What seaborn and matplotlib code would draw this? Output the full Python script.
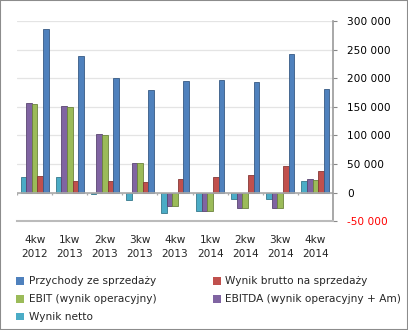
import matplotlib
matplotlib.use("Agg")
import matplotlib.pyplot as plt
from matplotlib.patches import Patch, Rectangle
from matplotlib.ticker import FuncFormatter
import seaborn as sns
import pandas as pd

# Quarterly results
kwartaly = ["4kw\n2012", "1kw\n2013", "2kw\n2013", "3kw\n2013", "4kw\n2013",
            "1kw\n2014", "2kw\n2014", "3kw\n2014", "4kw\n2014"]
przychody = [287000, 239000, 201000, 179000, 195000, 197500, 193500, 242500, 182000]
wynik_brutto = [29500, 21000, 20000, 18500, 23000, 27000, 30000, 47000, 38500]
ebit = [155500, 150000, 100500, 51000, -23000, -33000, -26500, -26500, 22500]
ebitda = [156500, 151000, 102000, 51500, -23000, -33000, -26500, -26500, 24000]
wynik_netto = [27000, 27000, -3000, -13000, -35000, -33000, -10500, -10500, 20000]

nazwy = {
    "przychody": "Przychody ze sprzedaży",
    "brutto": "Wynik brutto na sprzedaży",
    "ebit": "EBIT (wynik operacyjny)",
    "ebitda": "EBITDA (wynik operacyjny + Am)",
    "netto": "Wynik netto",
}
kolory = {
    nazwy["przychody"]: "#4F81BD",
    nazwy["brutto"]: "#C0504D",
    nazwy["ebit"]: "#9BBB59",
    nazwy["ebitda"]: "#8064A2",
    nazwy["netto"]: "#4BACC6",
}

serie = {
    nazwy["netto"]: wynik_netto,
    nazwy["ebitda"]: ebitda,
    nazwy["ebit"]: ebit,
    nazwy["brutto"]: wynik_brutto,
    nazwy["przychody"]: przychody,
}
rows = []
for s, vals in serie.items():
    for k, v in zip(kwartaly, vals):
        rows.append({"kwartal": k, "seria": s, "wartosc": v})
df = pd.DataFrame(rows)

sns.set_theme(style="white")
plt.rcParams["font.family"] = ["DejaVu Sans"]
FS = 7.6

fig = plt.figure(figsize=(4.08, 3.30), dpi=100)
ax = fig.add_axes([0.042, 0.330, 0.774, 0.606])

sns.barplot(data=df, x="kwartal", y="wartosc", hue="seria",
            hue_order=list(serie.keys()), palette=kolory, order=kwartaly,
            width=0.8, saturation=1, legend=False, ax=ax,
            edgecolor="none", linewidth=0)

# subtle darker outline on each bar for depth
for p in ax.patches:
    c = p.get_facecolor()
    p.set_edgecolor((c[0] * 0.7, c[1] * 0.7, c[2] * 0.7, 1))
    p.set_linewidth(0.6)

ax.set_ylim(-50000, 300000)
ax.set_xlim(-0.5, len(kwartaly) - 0.5)
ax.set_yticks(range(-50000, 300001, 50000))
ax.yaxis.grid(True, color="#E4E4E4", linewidth=0.9)
ax.set_axisbelow(True)
ax.yaxis.tick_right()
ax.yaxis.set_label_position("right")
ax.yaxis.set_major_formatter(FuncFormatter(lambda v, _: f"{int(v):,}".replace(",", " ")))
ax.tick_params(axis="y", length=3, width=0.8, color="#888888", pad=7,
               labelsize=FS, labelcolor="black", right=True, left=False)
for lab in ax.get_yticklabels():
    if lab.get_text().startswith("-"):
        lab.set_color("red")

ax.set_xlabel("")
ax.set_ylabel("")
ax.tick_params(axis="x", length=0, pad=10, labelsize=FS)
for lab in ax.get_xticklabels():
    lab.set_linespacing(1.55)

for side in ["top", "left"]:
    ax.spines[side].set_visible(False)
ax.spines["right"].set_color("#999999")
ax.spines["right"].set_linewidth(1.2)
ax.spines["bottom"].set_color("#BBBBBB")
ax.spines["bottom"].set_linewidth(1.5)

# zero axis with category tick marks
ax.axhline(0, color="#AAAAAA", linewidth=1.2, zorder=1)
granice = [i - 0.5 for i in range(len(kwartaly) + 1)]
ax.vlines(granice, -3500, 0, color="#AAAAAA", linewidth=0.9)

kolejnosc = [nazwy["przychody"], nazwy["ebit"], nazwy["netto"], nazwy["brutto"], nazwy["ebitda"]]
uchwyty = [Patch(facecolor=kolory[n], edgecolor="none") for n in kolejnosc]
fig.legend(uchwyty, kolejnosc, ncol=2, loc="upper left", bbox_to_anchor=(0.03, 0.175),
           frameon=False, fontsize=FS, handlelength=0.75, handleheight=0.75,
           handletextpad=0.4, columnspacing=5.4, labelspacing=0.75, borderaxespad=0)

fig.patches.append(Rectangle((0, 0), 1, 1, transform=fig.transFigure, fill=False,
                             edgecolor="#8C8C8C", linewidth=1.5))

fig.savefig("out.png", dpi=100)
